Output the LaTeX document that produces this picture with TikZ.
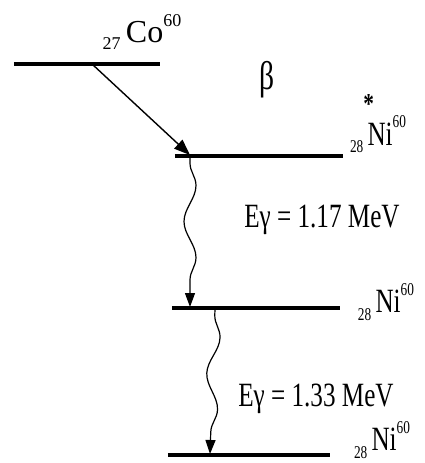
\documentclass[tikz,border=0pt]{standalone}
\usepackage{fontspec}
\usepackage{graphicx}
\setmainfont{Liberation Serif}
\usetikzlibrary{decorations.pathmorphing,arrows.meta}
\newcommand{\iso}[3]{\raisebox{-0.5ex}{\small #1}\,#2\raisebox{1.1ex}{\small #3}}
\newcommand{\narrow}[1]{\scalebox{0.74}[1]{#1}}

\begin{document}
\begin{tikzpicture}[x=0.5pt,y=-0.5pt,
  level/.style={line width=1.6pt},
  gamma/.style={line width=0.6pt,decorate,
    decoration={snake,segment length=36pt,amplitude=3pt,pre length=3pt,post length=9pt},
    -{Triangle[length=7pt,width=5pt]}},
  lbl/.style={font=\fontsize{17}{19}\selectfont,inner sep=0pt}]
  \useasboundingbox (0,0) rectangle (425,463);
  % energy levels
  \coordinate (co l) at (14,64);   \coordinate (co r) at (160,64);
  \coordinate (nx l) at (175,156); \coordinate (nx r) at (343,156);
  \coordinate (ni l) at (172,308); \coordinate (ni r) at (340,308);
  \coordinate (gs l) at (168,455); \coordinate (gs r) at (330,455);
  \draw[level] (co l) -- (co r);
  \draw[level] (nx l) -- (nx r);
  \draw[level] (ni l) -- (ni r);
  \draw[level] (gs l) -- (gs r);
  % transitions
  \coordinate (b0) at (92,64);   \coordinate (b1) at (190,155);
  \coordinate (g0) at (190,157); \coordinate (g1) at (190,307);
  \coordinate (h0) at (215,309); \coordinate (h1) at (210,454);
  \draw[line width=0.7pt,-{Triangle[length=8pt,width=6pt]}] (b0) -- (b1);
  \draw[gamma] (g0) -- (g1);
  \draw[gamma] (h0) -- (h1);
  % labels
  \node[lbl,font=\fontsize{16}{18}\selectfont] (co) at (142,32) {\iso{27}{Co}{60}};
  \node[lbl,font=\fontsize{20}{22}\selectfont] (beta) at (267,80) {\narrow{β}};
  \node[lbl] (nx) at (378,124) {\narrow{\raisebox{-0.5ex}{\small 28}\makebox[0pt][l]{\raisebox{2ex}{\Large\textbf{*}}}\,Ni\raisebox{1.1ex}{\small 60}}};
  \node[lbl] (e1) at (322,220) {\narrow{Eγ = 1.17 MeV}};
  \node[lbl] (ni) at (386,302) {\narrow{\iso{28}{Ni}{60}}};
  \node[lbl] (e2) at (316,399) {\narrow{Eγ = 1.33 MeV}};
  \node[lbl] (gs) at (382,440) {\narrow{\iso{28}{Ni}{60}}};
\end{tikzpicture}
\end{document}
